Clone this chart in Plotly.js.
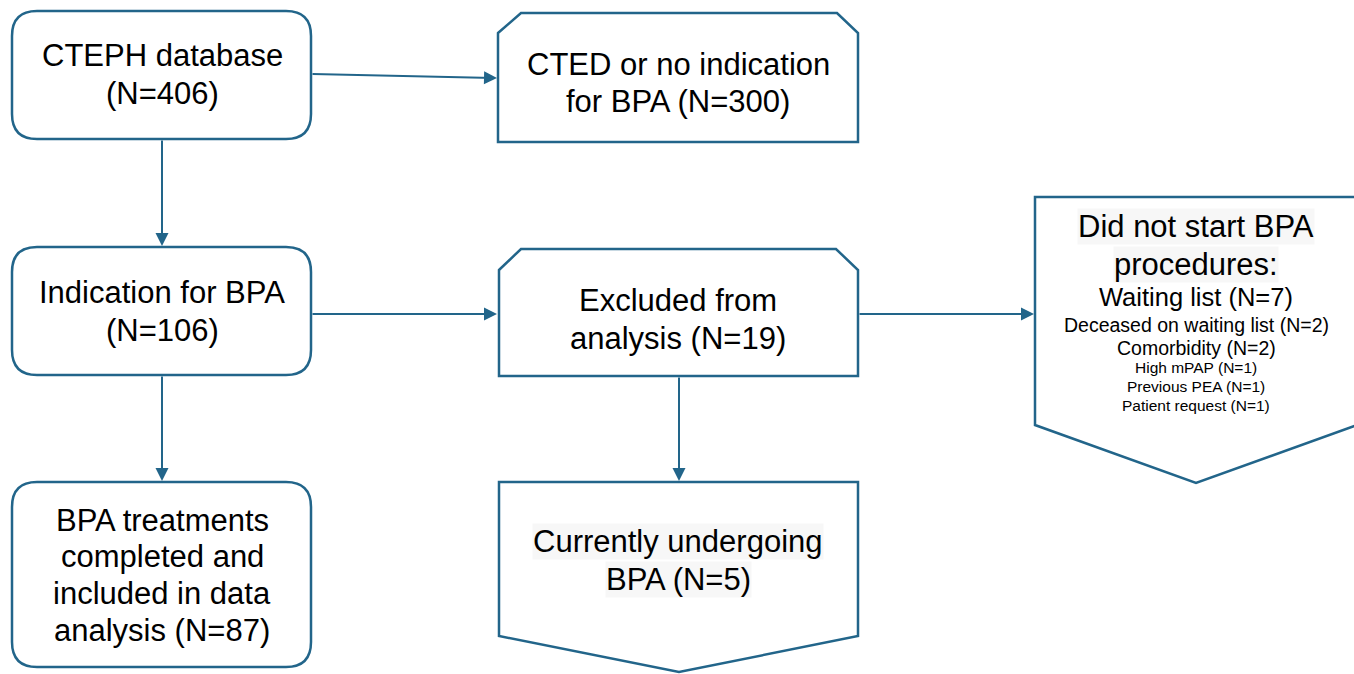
<!DOCTYPE html>
<html><head><meta charset="utf-8">
<script src="https://cdn.plot.ly/plotly-3.0.1.min.js"></script>
<style>html,body{margin:0;padding:0;background:#fff;overflow:hidden}#chart{width:1354px;height:674px}</style>
</head><body><div id="chart"></div>
<script>
// ---- content ----
const ctephLines = ["CTEPH database", "(N=406)"];
const indicationLines = ["Indication for BPA", "(N=106)"];
const completedLines = ["BPA treatments", "completed and", "included in data", "analysis (N=87)"];
const ctedLines = ["CTED or no indication", "for BPA (N=300)"];
const excludedLines = ["Excluded from", "analysis (N=19)"];
const undergoingLines = ["Currently undergoing", "BPA (N=5)"];
const notStartedTitle = ["Did not start BPA", "procedures:"];
const notStartedReasons = ["Waiting list (N=7)", "Deceased on waiting list (N=2)", "Comorbidity (N=2)",
  "High mPAP (N=1)", "Previous PEA (N=1)", "Patient request (N=1)"];

// ---- styling / layout geometry (pixels) ----
const LINE = "#22658a";
const FONT = "Liberation Sans, Arial, Helvetica, sans-serif";
const shapes = [];
const annotations = [];

function rounded(x0, y0, x1, y1, r) {
  return `M${x0 + r},${y0} L${x1 - r},${y0} Q${x1},${y0} ${x1},${y0 + r} L${x1},${y1 - r} Q${x1},${y1} ${x1 - r},${y1} ` +
         `L${x0 + r},${y1} Q${x0},${y1} ${x0},${y1 - r} L${x0},${y0 + r} Q${x0},${y0} ${x0 + r},${y0} Z`;
}
function poly(pts) {
  return "M" + pts.map(p => p[0] + "," + p[1]).join(" L") + " Z";
}
function addShape(path) {
  shapes.push({type: "path", xref: "x", yref: "y", path: path,
    line: {color: LINE, width: 2.5}, fillcolor: "rgba(255,255,255,0)", layer: "below"});
}
function addLines(lines, cx, ys, sizes, bg) {
  lines.forEach((t, i) => {
    annotations.push({x: cx, y: ys[i], xref: "x", yref: "y", text: t, showarrow: false,
      xanchor: "center", yanchor: "middle",
      font: {family: FONT, size: Array.isArray(sizes) ? sizes[i] : sizes, color: "#000"},
      bgcolor: bg || "rgba(0,0,0,0)", borderpad: 0});
  });
}
function arrow(x0, y0, x1, y1) {
  annotations.push({x: x1, y: y1, ax: x0, ay: y0, xref: "x", yref: "y", axref: "x", ayref: "y",
    text: "", showarrow: true, arrowhead: 2, arrowsize: 1.3, arrowwidth: 2, arrowcolor: LINE, standoff: 0});
}

// boxes
addShape(rounded(12, 11, 311, 139, 25));
addShape(rounded(12, 247, 311, 375, 25));
addShape(rounded(12, 482, 311, 667, 25));
addShape(poly([[498, 33], [521, 13], [837, 13], [858, 33], [858, 142], [498, 142]]));
addShape(poly([[499, 270], [521, 249], [836, 249], [858, 270], [858, 376], [499, 376]]));
addShape(poly([[499, 482], [858, 482], [858, 636], [679, 672], [499, 636]]));
addShape(poly([[1035, 197], [1357, 197], [1357, 425], [1196, 483], [1035, 425]]));

// connectors
arrow(162, 139, 162, 246);
arrow(162, 375, 162, 481);
arrow(311, 74, 497, 78);
arrow(311, 314, 497, 314);
arrow(679, 376, 679, 481);
arrow(858, 314, 1034, 314);

// text
addLines(ctephLines, 162, [55, 93], 31);
addLines(indicationLines, 162, [292, 330], 31);
addLines(completedLines, 162, [520, 556, 593, 630], 31);
addLines(ctedLines, 678, [64, 101], 31);
addLines(excludedLines, 678, [300, 338], 31);
addLines(undergoingLines, 678, [541, 579], 31, "#f7f7f7");
addLines(notStartedTitle, 1196, [226, 264], 31, "#f7f7f7");
addLines(notStartedReasons, 1196, [297, 325, 348, 367, 386, 405], [25.5, 19.5, 19.5, 15.5, 15.5, 15.5]);

Plotly.newPlot("chart", [], {
  width: 1354, height: 674,
  margin: {l: 0, r: 0, t: 0, b: 0},
  paper_bgcolor: "#fff", plot_bgcolor: "#fff",
  xaxis: {range: [0, 1354], visible: false, fixedrange: true},
  yaxis: {range: [674, 0], visible: false, fixedrange: true},
  shapes: shapes, annotations: annotations, showlegend: false
}, {displayModeBar: false, staticPlot: true});
</script></body></html>
